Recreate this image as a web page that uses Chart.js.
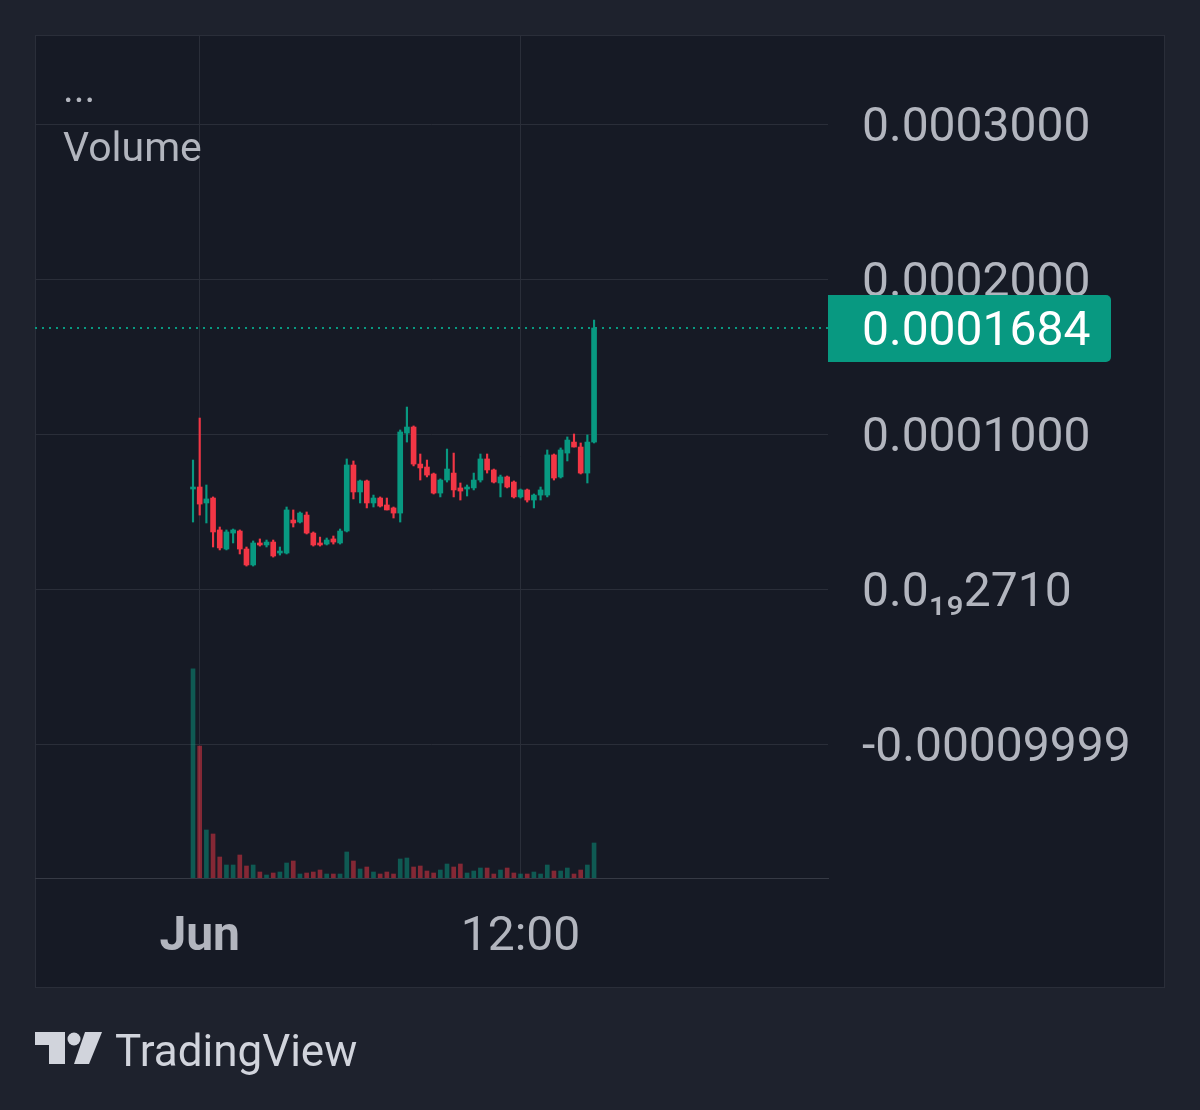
<!DOCTYPE html>
<html>
<head>
<meta charset="utf-8">
<script src="https://cdn.jsdelivr.net/npm/chart.js@4.4.0/dist/chart.umd.min.js"></script>
<style>
  html, body { margin: 0; padding: 0; background: #1e222d; }
  #wrap { position: relative; width: 1200px; height: 1110px; }
  #c { position: absolute; left: 0; top: 0; }
  .txt { position: absolute; font-family: Roboto, sans-serif; line-height: 1; white-space: nowrap; }
  #dots { left: 63px; top: 68px; font-size: 41px; color: #b2b5be; }
  #vol { left: 63px; top: 127px; font-size: 41px; color: #b2b5be; }
  #logo { position: absolute; left: 35px; top: 1030px; }
  #brand { left: 115px; top: 1029px; font-size: 44px; color: #d1d4dc; }
</style>
</head>
<body>
<div id="wrap">
  <canvas id="c" width="1200" height="1110"></canvas>
  <div class="txt" id="dots">...</div>
  <div class="txt" id="vol">Volume</div>
  <svg id="logo" width="70" height="40" viewBox="0 0 70 40">
    <polygon points="0,2 30,2 30,34 14,34 14,15 0,15" fill="#d1d4dc"/>
    <circle cx="39" cy="9" r="6.5" fill="#d1d4dc"/>
    <polygon points="50,2 67,2 54,34 39,34" fill="#d1d4dc"/>
  </svg>
  <div class="txt" id="brand">TradingView</div>
</div>
<script>
// 15 minute candles, first one at 23:45 the day before "Jun"
const opens = [
  0.0000645, 0.0000658, 0.0000555, 0.0000587, 0.0000381, 0.0000258, 0.0000361, 0.0000374, 0.0000258, 0.0000155,
  0.0000297, 0.0000284, 0.0000303, 0.0000232, 0.0000232, 0.0000445, 0.0000432, 0.0000477, 0.0000361, 0.0000297,
  0.0000290, 0.0000323, 0.0000297, 0.0000374, 0.0000800, 0.0000626, 0.0000697, 0.0000555, 0.0000587, 0.0000542,
  0.0000523, 0.0000490, 0.0001006, 0.0001045, 0.0000806, 0.0000787, 0.0000742, 0.0000619, 0.0000703, 0.0000748,
  0.0000652, 0.0000645, 0.0000652, 0.0000703, 0.0000839, 0.0000768, 0.0000684, 0.0000723, 0.0000690, 0.0000594,
  0.0000639, 0.0000574, 0.0000606, 0.0000606, 0.0000865, 0.0000723, 0.0000877, 0.0000948, 0.0000916, 0.0000748,
  0.0000948
];
const highs = [
  0.0000832, 0.0001103, 0.0000671, 0.0000594, 0.0000400, 0.0000381, 0.0000387, 0.0000381, 0.0000271, 0.0000310,
  0.0000323, 0.0000316, 0.0000316, 0.0000271, 0.0000529, 0.0000510, 0.0000497, 0.0000497, 0.0000368, 0.0000335,
  0.0000329, 0.0000342, 0.0000387, 0.0000839, 0.0000826, 0.0000703, 0.0000703, 0.0000606, 0.0000594, 0.0000587,
  0.0000529, 0.0001026, 0.0001174, 0.0001052, 0.0000871, 0.0000832, 0.0000748, 0.0000710, 0.0000903, 0.0000877,
  0.0000684, 0.0000671, 0.0000748, 0.0000871, 0.0000871, 0.0000774, 0.0000735, 0.0000729, 0.0000697, 0.0000645,
  0.0000645, 0.0000613, 0.0000658, 0.0000897, 0.0000871, 0.0000910, 0.0000981, 0.0001000, 0.0000942, 0.0000994,
  0.0001735
];
const lows = [
  0.0000432, 0.0000477, 0.0000426, 0.0000271, 0.0000252, 0.0000252, 0.0000297, 0.0000226, 0.0000148, 0.0000148,
  0.0000277, 0.0000271, 0.0000206, 0.0000219, 0.0000226, 0.0000400, 0.0000426, 0.0000355, 0.0000277, 0.0000277,
  0.0000284, 0.0000290, 0.0000290, 0.0000368, 0.0000581, 0.0000555, 0.0000523, 0.0000529, 0.0000529, 0.0000510,
  0.0000458, 0.0000432, 0.0000948, 0.0000794, 0.0000703, 0.0000723, 0.0000613, 0.0000594, 0.0000690, 0.0000594,
  0.0000574, 0.0000600, 0.0000639, 0.0000690, 0.0000748, 0.0000684, 0.0000594, 0.0000652, 0.0000587, 0.0000587,
  0.0000561, 0.0000523, 0.0000574, 0.0000594, 0.0000703, 0.0000716, 0.0000826, 0.0000916, 0.0000742, 0.0000684,
  0.0000942
];
const closes = [
  0.0000658, 0.0000548, 0.0000581, 0.0000368, 0.0000265, 0.0000368, 0.0000381, 0.0000258, 0.0000155, 0.0000297,
  0.0000284, 0.0000303, 0.0000213, 0.0000245, 0.0000510, 0.0000426, 0.0000490, 0.0000361, 0.0000284, 0.0000284,
  0.0000316, 0.0000303, 0.0000374, 0.0000800, 0.0000626, 0.0000697, 0.0000555, 0.0000587, 0.0000535, 0.0000510,
  0.0000490, 0.0001013, 0.0001045, 0.0000806, 0.0000781, 0.0000735, 0.0000619, 0.0000703, 0.0000774, 0.0000639,
  0.0000632, 0.0000658, 0.0000703, 0.0000839, 0.0000768, 0.0000690, 0.0000723, 0.0000658, 0.0000594, 0.0000639,
  0.0000574, 0.0000606, 0.0000639, 0.0000865, 0.0000716, 0.0000897, 0.0000961, 0.0000916, 0.0000748, 0.0000948,
  0.0001684
];
// volume, K
const volumes = [
  209, 132, 48, 44, 21, 13, 13, 23, 12, 13,
  6, 3, 5, 6, 15, 17, 4, 5, 6, 8,
  4, 4, 4, 26, 17, 9, 11, 6, 4, 6,
  4, 19, 20, 11, 12, 7, 5, 8, 14, 11,
  14, 5, 7, 10, 10, 4, 8, 10, 5, 4,
  4, 6, 4, 13, 7, 7, 10, 4, 8, 13,
  35
];
const priceTicks = [0.0003, 0.0002, 0.0001, 0, -0.0001];
const priceTickLabels = ['0.0003000', '0.0002000', '0.0001000', '0.0\u2081\u20892710', '-0.00009999'];
const timeTicks = [1, 49];
const timeTickLabels = ['Jun', '12:00'];

const upColor = '#089981';
const downColor = '#f23645';
const gridColor = '#2a2e39';
const textColor = '#b2b5be';
const fontFamily = 'Roboto, "DejaVu Sans", sans-serif';

const candleColors = closes.map((c, i) => c >= opens[i] ? upColor : downColor);
const volColors = closes.map((c, i) => c >= opens[i] ? 'rgba(8,153,129,0.5)' : 'rgba(242,54,69,0.5)');

const panePlugin = {
  id: 'pane',
  beforeDraw(chart) {
    const ctx = chart.ctx;
    ctx.save();
    ctx.fillStyle = '#1e222d';
    ctx.fillRect(0, 0, chart.width, chart.height);
    ctx.fillStyle = '#161a25';
    ctx.fillRect(35, 35, 1130, 953);
    ctx.strokeStyle = gridColor;
    ctx.lineWidth = 1;
    ctx.strokeRect(35.5, 35.5, 1129, 952);
    ctx.restore();
  }
};

const lastPricePlugin = {
  id: 'lastPrice',
  afterDraw(chart) {
    const ctx = chart.ctx;
    const area = chart.chartArea;
    const last = closes[closes.length - 1];
    const y = Math.round(chart.scales.y.getPixelForValue(last));
    ctx.save();
    ctx.strokeStyle = upColor;
    ctx.lineWidth = 2;
    ctx.setLineDash([2, 5]);
    ctx.beginPath();
    ctx.moveTo(area.left, y);
    ctx.lineTo(area.right, y);
    ctx.stroke();
    ctx.setLineDash([]);
    ctx.fillStyle = upColor;
    ctx.beginPath();
    ctx.roundRect(area.right, y - 33, 283, 67, [0, 5, 5, 0]);
    ctx.fill();
    ctx.fillStyle = '#ffffff';
    ctx.font = '48px ' + fontFamily;
    ctx.textBaseline = 'middle';
    ctx.textAlign = 'left';
    ctx.fillText(last.toFixed(7), area.right + 34, y + 5);
    ctx.restore();
  }
};

new Chart(document.getElementById('c'), {
  type: 'bar',
  data: {
    datasets: [
      {
        label: 'body',
        data: opens.map((o, i) => ({ x: i, y: [o, closes[i]] })),
        backgroundColor: candleColors,
        barThickness: 5,
        minBarLength: 1,
        grouped: false,
        yAxisID: 'y',
        order: 1
      },
      {
        label: 'wick',
        data: lows.map((l, i) => ({ x: i, y: [l, highs[i]] })),
        backgroundColor: candleColors,
        barThickness: 1.5,
        grouped: false,
        yAxisID: 'y',
        order: 2
      },
      {
        label: 'Volume',
        data: volumes.map((v, i) => ({ x: i, y: v })),
        backgroundColor: volColors,
        barThickness: 4,
        grouped: false,
        yAxisID: 'y2',
        order: 3
      }
    ]
  },
  options: {
    responsive: false,
    animation: false,
    layout: { padding: { left: 35, top: 35, right: 35, bottom: 122 } },
    plugins: {
      legend: { display: false },
      tooltip: { enabled: false }
    },
    scales: {
      x: {
        type: 'linear',
        offset: false,
        min: -23.64,
        max: 95,
        afterBuildTicks: (scale) => { scale.ticks = timeTicks.map(v => ({ value: v })); },
        afterFit: (scale) => { scale.height = 110; scale.paddingLeft = 0; scale.paddingRight = 0; },
        grid: { color: gridColor, drawTicks: false, offset: false },
        border: { display: true, color: '#363a45' },
        ticks: {
          padding: 31,
          color: textColor,
          maxRotation: 0,
          autoSkip: false,
          font: (ctx) => ({ family: fontFamily, size: 48, weight: ctx.index === 0 ? 'bold' : 'normal' }),
          callback: (value, index) => timeTickLabels[index]
        }
      },
      y: {
        position: 'right',
        min: -0.00018645,
        max: 0.00035742,
        afterBuildTicks: (scale) => { scale.ticks = priceTicks.map(v => ({ value: v })); },
        afterFit: (scale) => { scale.width = 337; scale.paddingTop = 0; scale.paddingBottom = 0; },
        grid: { color: gridColor, drawTicks: false },
        border: { display: false },
        ticks: {
          padding: 34,
          labelOffset: 5,
          color: textColor,
          autoSkip: false,
          font: { family: fontFamily, size: 48 },
          callback: (value, index) => priceTickLabels[index]
        }
      },
      y2: {
        display: false,
        min: 0,
        max: Math.max(...volumes) / 0.248
      }
    }
  },
  plugins: [panePlugin, lastPricePlugin]
});
</script>
</body>
</html>
